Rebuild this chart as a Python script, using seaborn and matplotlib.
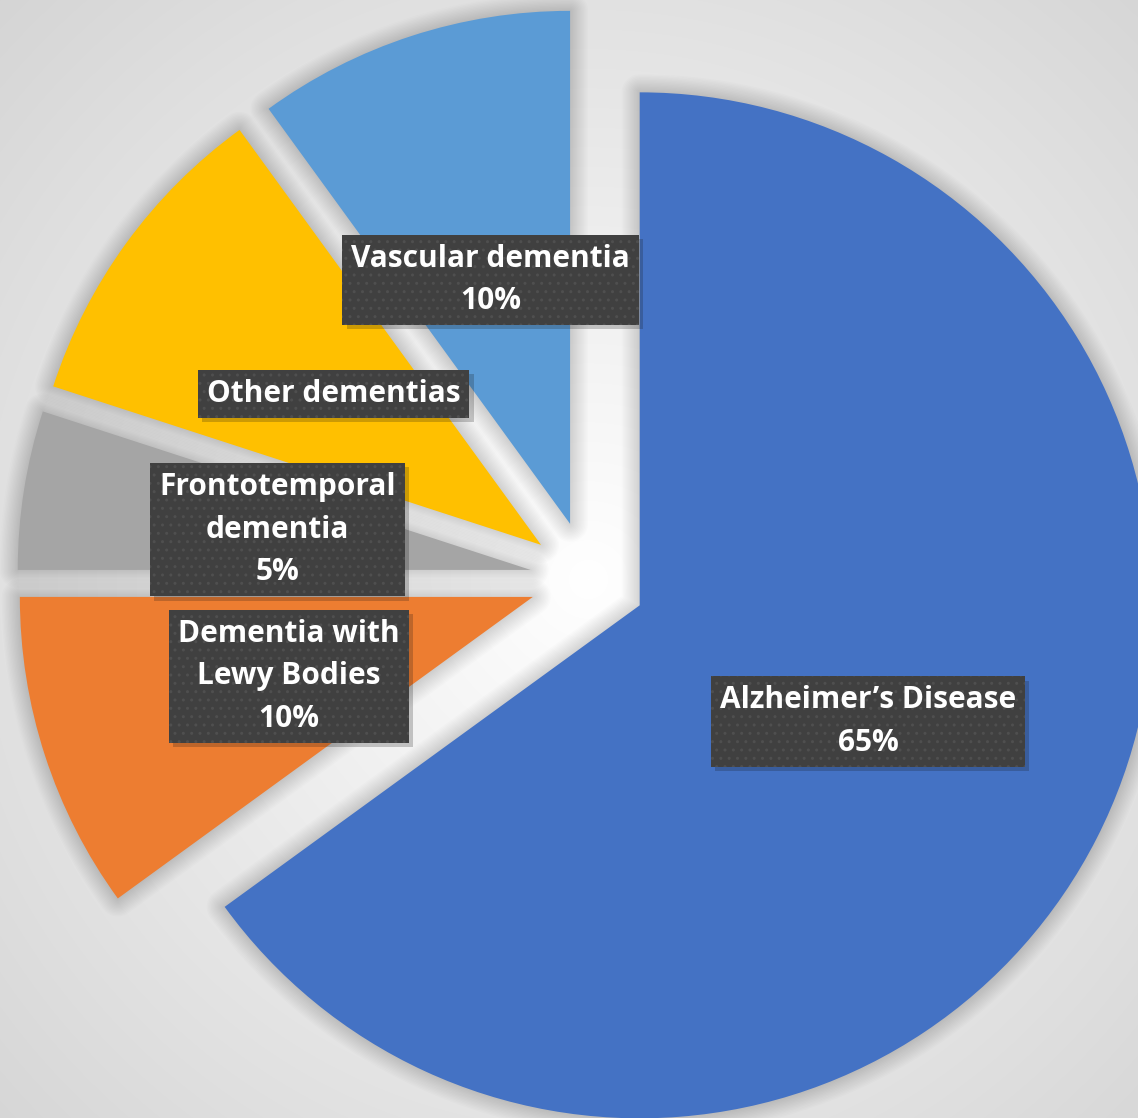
import numpy as np
import matplotlib
matplotlib.use("Agg")
import matplotlib.pyplot as plt
import seaborn as sns
from matplotlib.patches import Wedge
from matplotlib import patheffects as pe

# Dementia types and their share of cases (percent)
categories = ["Alzheimer\u2019s Disease", "Dementia with\nLewy Bodies",
              "Frontotemporal\ndementia", "Other dementias", "Vascular dementia"]
shares = [65, 10, 5, 10, 10]
show_share = [True, True, True, False, True]
colors = ["#4472C4", "#ED7D31", "#A5A5A5", "#FFC000", "#5B9BD5"]

sns.set_theme(style="white")
plt.rcParams["font.family"] = ["Open Sans", "DejaVu Sans"]

W, H = 1138, 1118
fig = plt.figure(figsize=(W / 100, H / 100), dpi=100)
ax = fig.add_axes([0, 0, 1, 1])

# soft radial backdrop
cx, cy, R = 588, H - 579, 513
gap = 58
yy, xx = np.mgrid[0:H, 0:W]
dist = np.hypot(xx - cx, (H - yy) - cy)
shade = np.clip(255 - 42 * dist / 825, 200, 255) / 255
bg = np.dstack([shade, shade, shade])
ax.imshow(bg, extent=(0, W, 0, H), origin="upper", zorder=0, aspect="auto")

wedges, _ = ax.pie(shares, colors=colors, startangle=90, counterclock=False,
                   explode=[gap] * len(shares), radius=R, center=(cx, cy),
                   frame=True, wedgeprops=dict(linewidth=0, zorder=3))

# blurred outer shadow built from stacked translucent outlines
for w in wedges:
    for lw in range(2, 28, 2):
        ax.add_patch(Wedge(w.center, w.r, w.theta1, w.theta2, fill=False,
                           edgecolor="black", linewidth=lw, alpha=0.01,
                           joinstyle="round", zorder=2))

for w, name, val, flag in zip(wedges, categories, shares, show_share):
    mid = np.deg2rad((w.theta1 + w.theta2) / 2)
    x = w.center[0] + 0.5 * w.r * np.cos(mid)
    y = w.center[1] + 0.5 * w.r * np.sin(mid)
    label = f"{name}\n{val}%" if flag else name
    t = ax.text(x, y, label, ha="center", va="center", color="white",
                fontsize=21.5, fontweight="bold", linespacing=1.55, zorder=6,
                bbox=dict(boxstyle="square,pad=0.3", facecolor="#404040",
                          edgecolor="#4f4f4f", linewidth=0, hatch=".."))
    t.get_bbox_patch().set_path_effects(
        [pe.SimplePatchShadow(offset=(3, -3), alpha=0.22, hatch=None),
         pe.Normal()])

ax.set_xlim(0, W)
ax.set_ylim(0, H)
ax.set_aspect("equal")
ax.axis("off")
fig.savefig("out.png", dpi=100)
